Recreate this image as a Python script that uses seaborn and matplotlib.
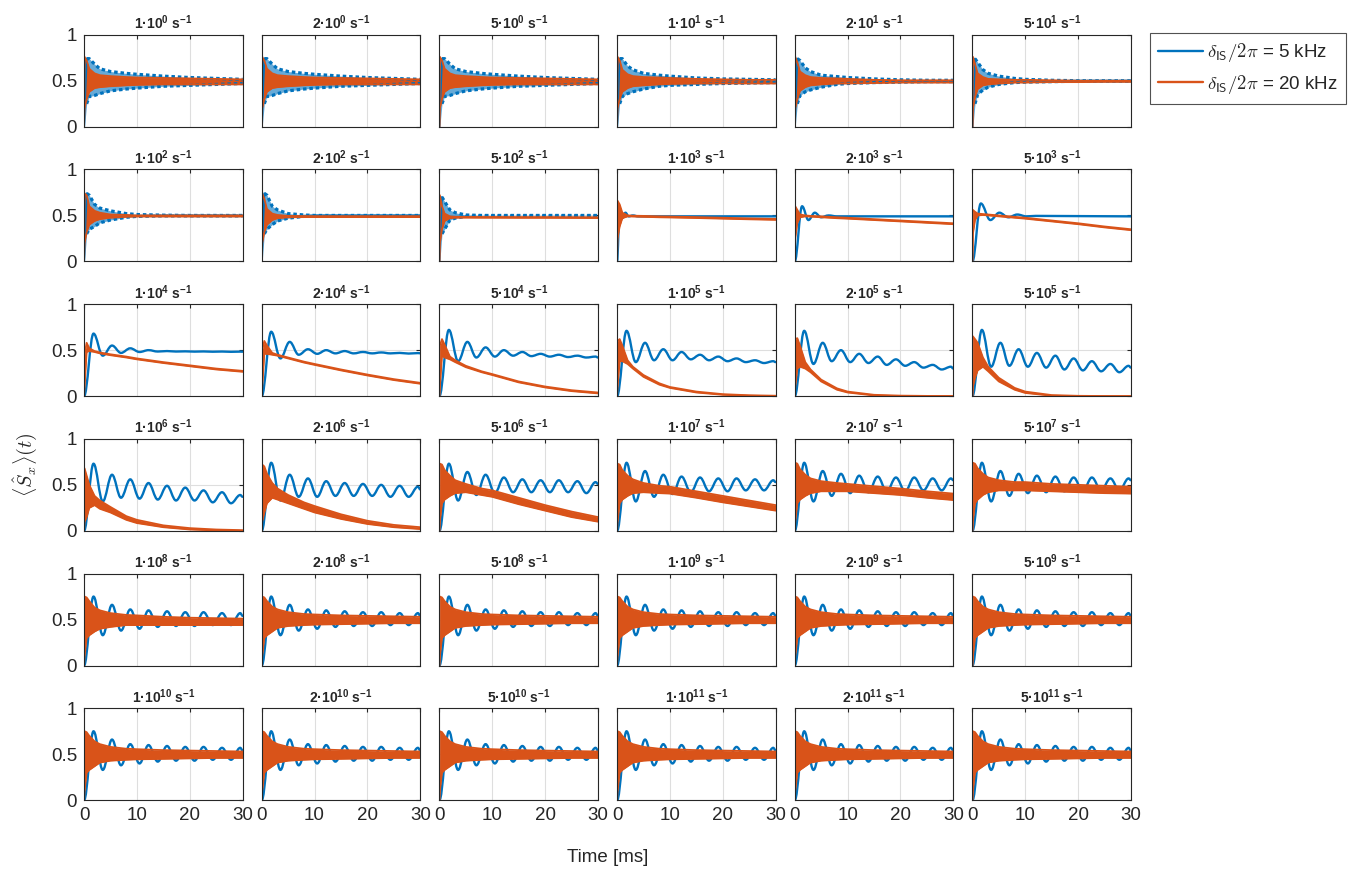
import matplotlib
matplotlib.use('Agg')
import matplotlib.pyplot as plt
import seaborn as sns
from matplotlib.lines import Line2D
from matplotlib.path import Path
from matplotlib.patches import PathPatch

BLUE = '#0072BD'
ORANGE = '#D95319'

# panel titles: rate = mantissa * 10^exponent  [s^-1]
rate_mant = [1, 2, 5] * 12
rate_exp = [e for e in range(12) for _ in range(3)]

# time grid (ms) for the envelopes of the fast oscillating parts
band_t = [0, 0.1, 0.5, 1, 2, 3, 5, 8, 10, 15, 20, 25, 30]

# ---- row 1 (1e0 .. 5e1), upper / lower envelopes
r1_blue_hi_a = [0, 0.2, 0.74, 0.74, 0.68, 0.63, 0.60, 0.58, 0.57, 0.55, 0.535, 0.525, 0.515]
r1_blue_lo_a = [0, 0, 0.25, 0.33, 0.34, 0.36, 0.39, 0.41, 0.42, 0.44, 0.45, 0.46, 0.47]
r1_or_hi_a = [0, 0.76, 0.72, 0.63, 0.58, 0.56, 0.55, 0.54, 0.535, 0.53, 0.525, 0.52, 0.515]
r1_or_lo_a = [0, 0.2, 0.30, 0.38, 0.42, 0.43, 0.44, 0.45, 0.455, 0.46, 0.46, 0.46, 0.46]
r1_blue_hi_d = [0, 0.2, 0.74, 0.74, 0.66, 0.62, 0.58, 0.56, 0.55, 0.53, 0.52, 0.515, 0.51]
r1_blue_lo_d = [0, 0, 0.25, 0.33, 0.36, 0.38, 0.41, 0.44, 0.45, 0.46, 0.47, 0.475, 0.48]
r1_or_hi_d = [0, 0.76, 0.72, 0.62, 0.57, 0.55, 0.54, 0.535, 0.53, 0.52, 0.515, 0.51, 0.51]
r1_or_lo_d = [0, 0.2, 0.30, 0.38, 0.42, 0.44, 0.45, 0.46, 0.465, 0.47, 0.47, 0.47, 0.47]
r1_blue_hi_e = [0, 0.2, 0.74, 0.72, 0.64, 0.60, 0.56, 0.545, 0.535, 0.52, 0.51, 0.505, 0.505]
r1_blue_lo_e = [0, 0, 0.25, 0.34, 0.38, 0.40, 0.43, 0.46, 0.47, 0.48, 0.485, 0.49, 0.49]
r1_or_hi_e = [0, 0.76, 0.70, 0.60, 0.56, 0.54, 0.53, 0.525, 0.52, 0.51, 0.505, 0.505, 0.505]
r1_or_lo_e = [0, 0.2, 0.30, 0.39, 0.43, 0.45, 0.46, 0.47, 0.47, 0.475, 0.48, 0.48, 0.48]
r1_blue_hi_f = [0, 0.2, 0.74, 0.70, 0.62, 0.58, 0.55, 0.525, 0.515, 0.505, 0.50, 0.50, 0.50]
r1_blue_lo_f = [0, 0, 0.25, 0.35, 0.40, 0.43, 0.46, 0.48, 0.485, 0.49, 0.495, 0.495, 0.495]
r1_or_hi_f = [0, 0.76, 0.68, 0.58, 0.54, 0.52, 0.515, 0.51, 0.51, 0.505, 0.50, 0.50, 0.50]
r1_or_lo_f = [0, 0.2, 0.32, 0.41, 0.45, 0.46, 0.47, 0.48, 0.48, 0.485, 0.485, 0.488, 0.488]

# ---- row 2 (1e2 .. 5e3)
r2_blue_hi_a = [0, 0.2, 0.74, 0.72, 0.62, 0.58, 0.55, 0.52, 0.51, 0.503, 0.50, 0.50, 0.50]
r2_blue_lo_a = [0, 0, 0.30, 0.35, 0.38, 0.42, 0.45, 0.48, 0.49, 0.495, 0.495, 0.495, 0.495]
r2_or_hi_a = [0, 0.74, 0.72, 0.60, 0.55, 0.53, 0.51, 0.505, 0.50, 0.50, 0.50, 0.50, 0.50]
r2_or_lo_a = [0, 0.2, 0.32, 0.40, 0.44, 0.46, 0.475, 0.485, 0.488, 0.488, 0.488, 0.488, 0.488]
r2_blue_hi_b = [0, 0.2, 0.74, 0.72, 0.60, 0.56, 0.52, 0.505, 0.50, 0.50, 0.50, 0.50, 0.50]
r2_blue_lo_b = [0, 0, 0.30, 0.35, 0.40, 0.44, 0.47, 0.49, 0.495, 0.495, 0.495, 0.495, 0.495]
r2_or_hi_b = [0, 0.74, 0.68, 0.57, 0.52, 0.505, 0.495, 0.493, 0.492, 0.492, 0.492, 0.492, 0.492]
r2_or_lo_b = [0, 0.2, 0.32, 0.40, 0.45, 0.47, 0.48, 0.482, 0.482, 0.482, 0.482, 0.482, 0.482]
r2_blue_hi_c = [0, 0.2, 0.70, 0.65, 0.56, 0.53, 0.505, 0.50, 0.50, 0.50, 0.50, 0.50, 0.50]
r2_blue_lo_c = [0, 0, 0.30, 0.35, 0.45, 0.47, 0.49, 0.495, 0.495, 0.495, 0.495, 0.495, 0.495]
r2_or_hi_c = [0, 0.72, 0.60, 0.52, 0.49, 0.485, 0.484, 0.483, 0.483, 0.482, 0.482, 0.481, 0.48]
r2_or_lo_c = [0, 0.2, 0.35, 0.44, 0.47, 0.475, 0.476, 0.475, 0.475, 0.474, 0.474, 0.473, 0.472]
r2_blue_t_d = [0, 0.5, 1.0, 1.6, 2.2, 3.0, 4.0, 30]
r2_blue_y_d = [0, 0.57, 0.47, 0.53, 0.49, 0.50, 0.49, 0.49]
r2_or_hi_d = [0, 0.66, 0.62, 0.53, 0.50, 0.497, 0.495, 0.49, 0.488, 0.482, 0.475, 0.468, 0.462]
r2_or_lo_d = [0, 0.25, 0.38, 0.47, 0.49, 0.488, 0.485, 0.48, 0.478, 0.472, 0.465, 0.458, 0.452]
r2_blue_t_e = [0, 1.4, 2.6, 3.8, 5.0, 6.4, 8.0, 30]
r2_blue_y_e = [0, 0.60, 0.45, 0.53, 0.48, 0.50, 0.49, 0.49]
r2_or_hi_e = [0, 0.60, 0.56, 0.51, 0.50, 0.495, 0.49, 0.48, 0.475, 0.46, 0.445, 0.43, 0.415]
r2_or_lo_e = [0, 0.25, 0.42, 0.48, 0.49, 0.487, 0.48, 0.47, 0.465, 0.45, 0.435, 0.42, 0.405]
r2_blue_t_f = [0, 1.6, 3.4, 5.1, 6.8, 8.5, 10.2, 12.0, 30]
r2_blue_y_f = [0, 0.63, 0.45, 0.53, 0.48, 0.51, 0.49, 0.495, 0.49]
r2_or_hi_f = [0, 0.56, 0.54, 0.52, 0.515, 0.51, 0.50, 0.485, 0.475, 0.445, 0.415, 0.38, 0.35]
r2_or_lo_f = [0, 0.30, 0.45, 0.50, 0.505, 0.50, 0.49, 0.475, 0.465, 0.435, 0.405, 0.37, 0.34]

# ---- rows 3-6: blue maxima / minima (times shared), orange envelopes
blue_tk = [0, 1.8, 3.55, 5.3, 7.0, 8.75, 10.5, 12.2, 13.95, 15.7, 17.4,
           19.15, 20.9, 22.6, 24.35, 26.1, 27.8, 29.55, 30]

r3_blue_a = [0, 0.68, 0.44, 0.55, 0.47, 0.52, 0.48, 0.50, 0.485, 0.49, 0.485, 0.487, 0.484, 0.486, 0.483, 0.485, 0.482, 0.484, 0.483]
r3_blue_b = [0, 0.70, 0.41, 0.59, 0.45, 0.51, 0.46, 0.50, 0.465, 0.49, 0.465, 0.48, 0.465, 0.475, 0.465, 0.47, 0.463, 0.468, 0.466]
r3_blue_c = [0, 0.72, 0.38, 0.59, 0.42, 0.53, 0.43, 0.50, 0.44, 0.48, 0.435, 0.46, 0.43, 0.45, 0.425, 0.44, 0.42, 0.43, 0.42]
r3_blue_d = [0, 0.71, 0.37, 0.58, 0.39, 0.51, 0.39, 0.48, 0.40, 0.45, 0.39, 0.43, 0.38, 0.41, 0.37, 0.39, 0.36, 0.38, 0.37]
r3_blue_e = [0, 0.71, 0.35, 0.58, 0.38, 0.50, 0.37, 0.46, 0.36, 0.43, 0.34, 0.40, 0.33, 0.37, 0.31, 0.34, 0.29, 0.32, 0.30]
r3_blue_f = [0, 0.72, 0.32, 0.58, 0.33, 0.51, 0.32, 0.47, 0.31, 0.44, 0.29, 0.41, 0.28, 0.38, 0.27, 0.35, 0.26, 0.33, 0.31]

r3_or_hi_a = [0, 0.45, 0.58, 0.52, 0.49, 0.475, 0.455, 0.43, 0.41, 0.37, 0.335, 0.30, 0.275]
r3_or_lo_a = [0, 0.10, 0.48, 0.49, 0.48, 0.465, 0.445, 0.42, 0.40, 0.36, 0.325, 0.29, 0.265]
r3_or_hi_b = [0, 0.50, 0.60, 0.55, 0.47, 0.45, 0.42, 0.375, 0.35, 0.29, 0.235, 0.185, 0.145]
r3_or_lo_b = [0, 0.10, 0.46, 0.46, 0.45, 0.44, 0.41, 0.365, 0.34, 0.28, 0.225, 0.175, 0.135]
r3_or_hi_c = [0, 0.55, 0.62, 0.56, 0.43, 0.39, 0.33, 0.27, 0.24, 0.16, 0.105, 0.065, 0.04]
r3_or_lo_c = [0, 0.10, 0.44, 0.42, 0.40, 0.37, 0.315, 0.26, 0.23, 0.15, 0.095, 0.055, 0.03]
r3_or_hi_d = [0, 0.60, 0.62, 0.55, 0.39, 0.32, 0.23, 0.14, 0.10, 0.05, 0.022, 0.01, 0.005]
r3_or_lo_d = [0, 0.10, 0.38, 0.38, 0.35, 0.30, 0.21, 0.125, 0.09, 0.04, 0.015, 0.005, 0.0]
r3_or_hi_e = [0, 0.62, 0.63, 0.55, 0.37, 0.29, 0.18, 0.085, 0.05, 0.015, 0.006, 0.003, 0.002]
r3_or_lo_e = [0, 0.10, 0.30, 0.32, 0.30, 0.26, 0.16, 0.07, 0.04, 0.008, 0.0, 0.0, 0.0]
r3_or_hi_f = [0, 0.65, 0.62, 0.58, 0.42, 0.32, 0.20, 0.09, 0.05, 0.012, 0.004, 0.002, 0.001]
r3_or_lo_f = [0, 0.10, 0.20, 0.28, 0.32, 0.27, 0.16, 0.07, 0.035, 0.005, 0.0, 0.0, 0.0]

r4_blue_a = [0, 0.73, 0.32, 0.61, 0.36, 0.56, 0.35, 0.52, 0.34, 0.49, 0.33, 0.47, 0.33, 0.44, 0.31, 0.42, 0.30, 0.39, 0.37]
r4_blue_b = [0, 0.74, 0.33, 0.61, 0.37, 0.57, 0.37, 0.54, 0.38, 0.52, 0.38, 0.51, 0.38, 0.50, 0.37, 0.49, 0.37, 0.48, 0.45]
r4_blue_c = [0, 0.73, 0.33, 0.64, 0.39, 0.61, 0.41, 0.58, 0.42, 0.56, 0.42, 0.55, 0.42, 0.55, 0.42, 0.54, 0.41, 0.53, 0.51]
r4_blue_d = [0, 0.74, 0.32, 0.65, 0.37, 0.61, 0.40, 0.59, 0.42, 0.58, 0.43, 0.57, 0.43, 0.57, 0.44, 0.56, 0.44, 0.55, 0.53]
r4_blue_e = [0, 0.74, 0.32, 0.65, 0.38, 0.62, 0.41, 0.60, 0.42, 0.59, 0.43, 0.58, 0.43, 0.58, 0.44, 0.57, 0.44, 0.57, 0.55]

r4_or_hi_a = [0, 0.68, 0.60, 0.50, 0.38, 0.33, 0.26, 0.16, 0.12, 0.06, 0.03, 0.015, 0.008]
r4_or_lo_a = [0, 0.10, 0.15, 0.25, 0.28, 0.24, 0.20, 0.12, 0.085, 0.04, 0.015, 0.005, 0.0]
r4_or_hi_b = [0, 0.72, 0.70, 0.62, 0.52, 0.46, 0.39, 0.31, 0.27, 0.18, 0.11, 0.065, 0.04]
r4_or_lo_b = [0, 0.10, 0.20, 0.30, 0.36, 0.34, 0.30, 0.24, 0.20, 0.13, 0.075, 0.04, 0.02]
r4_or_hi_c = [0, 0.73, 0.72, 0.66, 0.60, 0.55, 0.51, 0.46, 0.44, 0.36, 0.28, 0.21, 0.15]
r4_or_lo_c = [0, 0.10, 0.30, 0.34, 0.38, 0.41, 0.42, 0.39, 0.37, 0.29, 0.22, 0.15, 0.10]
r4_or_hi_d = [0, 0.73, 0.72, 0.66, 0.60, 0.56, 0.52, 0.49, 0.48, 0.43, 0.38, 0.33, 0.28]
r4_or_lo_d = [0, 0.10, 0.30, 0.34, 0.38, 0.41, 0.42, 0.41, 0.405, 0.36, 0.31, 0.265, 0.22]
r4_or_hi_e = [0, 0.74, 0.73, 0.67, 0.61, 0.57, 0.54, 0.52, 0.51, 0.485, 0.46, 0.43, 0.405]
r4_or_lo_e = [0, 0.10, 0.30, 0.34, 0.38, 0.41, 0.43, 0.43, 0.43, 0.41, 0.39, 0.36, 0.335]
r4_or_hi_f = [0, 0.74, 0.73, 0.68, 0.62, 0.58, 0.55, 0.53, 0.53, 0.51, 0.50, 0.49, 0.48]
r4_or_lo_f = [0, 0.10, 0.30, 0.34, 0.39, 0.42, 0.44, 0.44, 0.44, 0.43, 0.42, 0.41, 0.405]

r56_blue = [0, 0.75, 0.33, 0.66, 0.38, 0.61, 0.40, 0.60, 0.42, 0.59, 0.43, 0.58, 0.43, 0.58, 0.44, 0.57, 0.44, 0.57, 0.54]
r5_or_hi_a = [0, 0.75, 0.74, 0.70, 0.63, 0.60, 0.57, 0.55, 0.545, 0.53, 0.52, 0.515, 0.51]
r5_or_lo_a = [0, 0.10, 0.30, 0.33, 0.37, 0.40, 0.42, 0.44, 0.44, 0.44, 0.44, 0.44, 0.44]
r56_or_hi = [0, 0.75, 0.74, 0.70, 0.64, 0.61, 0.58, 0.56, 0.555, 0.545, 0.54, 0.535, 0.53]
r56_or_lo = [0, 0.10, 0.30, 0.33, 0.37, 0.41, 0.43, 0.44, 0.445, 0.45, 0.455, 0.46, 0.46]

# what goes in each panel (row-major)
blue_spec = [
    ('band', r1_blue_hi_a, r1_blue_lo_a), ('band', r1_blue_hi_a, r1_blue_lo_a),
    ('band', r1_blue_hi_a, r1_blue_lo_a), ('band', r1_blue_hi_d, r1_blue_lo_d),
    ('band', r1_blue_hi_e, r1_blue_lo_e), ('band', r1_blue_hi_f, r1_blue_lo_f),
    ('band', r2_blue_hi_a, r2_blue_lo_a), ('band', r2_blue_hi_b, r2_blue_lo_b),
    ('band', r2_blue_hi_c, r2_blue_lo_c), ('line', r2_blue_t_d, r2_blue_y_d),
    ('line', r2_blue_t_e, r2_blue_y_e), ('line', r2_blue_t_f, r2_blue_y_f),
    ('line', blue_tk, r3_blue_a), ('line', blue_tk, r3_blue_b), ('line', blue_tk, r3_blue_c),
    ('line', blue_tk, r3_blue_d), ('line', blue_tk, r3_blue_e), ('line', blue_tk, r3_blue_f),
    ('line', blue_tk, r4_blue_a), ('line', blue_tk, r4_blue_b), ('line', blue_tk, r4_blue_c),
    ('line', blue_tk, r4_blue_d), ('line', blue_tk, r4_blue_e), ('line', blue_tk, r4_blue_e),
] + [('line', blue_tk, r56_blue)] * 12

orange_spec = [
    (r1_or_hi_a, r1_or_lo_a), (r1_or_hi_a, r1_or_lo_a), (r1_or_hi_a, r1_or_lo_a),
    (r1_or_hi_d, r1_or_lo_d), (r1_or_hi_e, r1_or_lo_e), (r1_or_hi_f, r1_or_lo_f),
    (r2_or_hi_a, r2_or_lo_a), (r2_or_hi_b, r2_or_lo_b), (r2_or_hi_c, r2_or_lo_c),
    (r2_or_hi_d, r2_or_lo_d), (r2_or_hi_e, r2_or_lo_e), (r2_or_hi_f, r2_or_lo_f),
    (r3_or_hi_a, r3_or_lo_a), (r3_or_hi_b, r3_or_lo_b), (r3_or_hi_c, r3_or_lo_c),
    (r3_or_hi_d, r3_or_lo_d), (r3_or_hi_e, r3_or_lo_e), (r3_or_hi_f, r3_or_lo_f),
    (r4_or_hi_a, r4_or_lo_a), (r4_or_hi_b, r4_or_lo_b), (r4_or_hi_c, r4_or_lo_c),
    (r4_or_hi_d, r4_or_lo_d), (r4_or_hi_e, r4_or_lo_e), (r4_or_hi_f, r4_or_lo_f),
    (r5_or_hi_a, r5_or_lo_a),
] + [(r56_or_hi, r56_or_lo)] * 11

sns.set_style('white')
plt.rcParams['font.family'] = ['Liberation Sans', 'DejaVu Sans']
plt.rcParams['mathtext.fontset'] = 'custom'
plt.rcParams['mathtext.rm'] = 'Liberation Sans'
plt.rcParams['mathtext.bf'] = 'Liberation Sans:bold'
plt.rcParams['mathtext.it'] = 'Liberation Sans:italic'

fig, axes = plt.subplots(6, 6, figsize=(13.48, 8.69), dpi=100, sharex=True, sharey=True)
fig.subplots_adjust(left=84 / 1348, right=1131 / 1348, top=1 - 34.7 / 869,
                    bottom=1 - 800.3 / 869, wspace=0.12, hspace=0.463)


def draw_band(ax, hi, lo, color, light=False):
    if light:
        # many unresolved wiggles: semi fill, broken (bumpy) edges
        ax.fill_between(band_t, lo, hi, color=color, lw=0, alpha=0.6)
        sns.lineplot(x=band_t[:3], y=hi[:3], ax=ax, color=color, lw=1.5,
                     estimator=None, sort=False)
        for edge in (hi, lo):
            sns.lineplot(x=band_t[2:], y=edge[2:], ax=ax, color=color, lw=2.3,
                         estimator=None, sort=False, dashes=False,
                         linestyle=(0, (1.1, 0.9)))
    else:
        ax.fill_between(band_t, lo, hi, color=color, lw=0)
        for edge in (hi, lo):
            sns.lineplot(x=band_t, y=edge, ax=ax, color=color, lw=1.3, estimator=None, sort=False)


def draw_wave(ax, t, y, color):
    # extrema joined with flat-tangent curve segments
    verts = [(t[0], y[0])]
    codes = [Path.MOVETO]
    for k in range(len(t) - 1):
        h = (t[k + 1] - t[k]) * 0.37
        verts += [(t[k] + h, y[k]), (t[k + 1] - h, y[k + 1]), (t[k + 1], y[k + 1])]
        codes += [Path.CURVE4] * 3
    ax.add_patch(PathPatch(Path(verts, codes), facecolor='none', edgecolor=color,
                           lw=1.7, capstyle='round', joinstyle='round'))


for i, ax in enumerate(axes.flat):
    kind, a, b = blue_spec[i]
    if kind == 'band':
        draw_band(ax, a, b, BLUE, light=True)
    else:
        draw_wave(ax, a, b, BLUE)
    draw_band(ax, orange_spec[i][0], orange_spec[i][1], ORANGE)

    ax.set_xlim(0, 30)
    ax.set_ylim(0, 1)
    ax.set_xticks([0, 10, 20, 30])
    ax.set_yticks([0, 0.5, 1])
    ax.set_yticklabels(['0', '0.5', '1'])
    ax.set_xlabel('')
    ax.set_ylabel('')
    ax.grid(True, color='#dedede', lw=0.8)
    ax.set_axisbelow(True)
    ax.tick_params(direction='in', top=True, right=True, length=3, width=0.8,
                   color='#262626', labelsize=13.5, labelcolor='#262626', pad=5)
    for sp in ax.spines.values():
        sp.set_color('#262626')
        sp.set_linewidth(0.8)
    ax.set_title(r'%d·10$^{\mathbf{%d}}$ s$^{\mathbf{-1}}$' % (rate_mant[i], rate_exp[i]),
                 fontsize=10, fontweight='bold', pad=4)

fig.text(607.5 / 1348, 1 - 857 / 869, 'Time [ms]', ha='center', va='center',
         fontsize=13.5, color='#262626')
fig.text(25 / 1348, 1 - 465 / 869, r'$\langle\hat{S}_x\rangle(t)$', rotation=90,
         ha='center', va='center', fontsize=14.5, color='#262626', math_fontfamily='cm')

handles = [Line2D([], [], color=BLUE, lw=1.7), Line2D([], [], color=ORANGE, lw=1.7)]
labels = [r'$\delta_{\mathsf{IS}}/2\pi$ = 5 kHz', r'$\delta_{\mathsf{IS}}/2\pi$ = 20 kHz']
leg = fig.legend(handles, labels, loc='upper left', bbox_to_anchor=(1150 / 1348, 1 - 33 / 869),
                 fontsize=13.5, frameon=True, fancybox=False, edgecolor='#262626',
                 handlelength=2.4, handletextpad=0.2, borderaxespad=0, labelspacing=0.45,
                 borderpad=0.45)
leg.get_frame().set_linewidth(0.8)
for t in leg.get_texts():
    t.set_math_fontfamily('cm')

fig.savefig('out.png', dpi=100)
